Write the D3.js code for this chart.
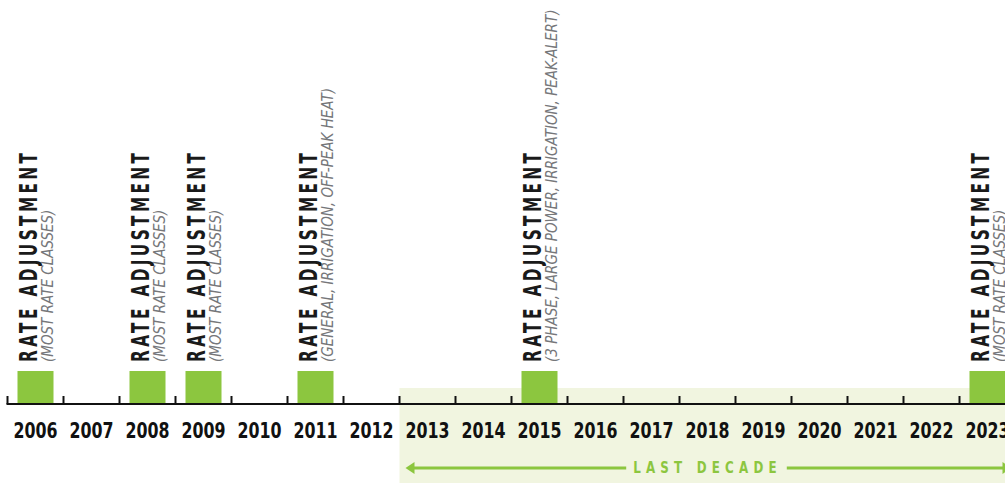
<!DOCTYPE html>
<html>
<head>
<meta charset="utf-8">
<script src="https://cdn.jsdelivr.net/npm/d3@7/dist/d3.min.js"></script>
<style>
  html, body { margin: 0; padding: 0; background: #fff; }
  svg { display: block; }
</style>
</head>
<body>
<svg id="chart" width="1005" height="483"></svg>
<script>
// Timeline data
var years = [2006, 2007, 2008, 2009, 2010, 2011, 2012, 2013, 2014, 2015, 2016, 2017, 2018, 2019, 2020, 2021, 2022, 2023];
var eventYears = [2006, 2008, 2009, 2011, 2015, 2023];
var eventTitles = ['RATE ADJUSTMENT', 'RATE ADJUSTMENT', 'RATE ADJUSTMENT', 'RATE ADJUSTMENT', 'RATE ADJUSTMENT', 'RATE ADJUSTMENT'];
var eventNotes = [
  '(MOST RATE CLASSES)',
  '(MOST RATE CLASSES)',
  '(MOST RATE CLASSES)',
  '(GENERAL, IRRIGATION, OFF-PEAK HEAT)',
  '(3 PHASE, LARGE POWER, IRRIGATION, PEAK-ALERT)',
  '(MOST RATE CLASSES)'
];
var decadeStart = 2013, decadeLabel = 'LAST DECADE';

/*******************************************************************************************/

var GREEN = '#8cc63f', BG = '#f1f5e0';
var CONDENSED = '"DejaVu Sans Condensed", "Liberation Sans Narrow", sans-serif';

var svg = d3.select('#chart');
var W = 1005, H = 483, axisY = 404, step = 56;

var x = d3.scaleBand().domain(years).range([7.5, 7.5 + step * years.length]).paddingInner(0);
var barW = 36, barH = 33;

// last decade band
svg.append('rect').attr('x', x(decadeStart)).attr('y', 388)
   .attr('width', W - x(decadeStart)).attr('height', H - 388).style('fill', BG);

// bars
svg.selectAll('.bar').data(eventYears).enter().append('rect')
   .attr('class', 'bar')
   .attr('x', d => x(d) + (step - barW) / 2)
   .attr('y', axisY - barH)
   .attr('width', barW).attr('height', barH)
   .style('fill', GREEN);

// axis line + ticks at band boundaries
svg.append('line').attr('x1', x(years[0]) - 1).attr('x2', W).attr('y1', axisY).attr('y2', axisY)
   .style('stroke', '#111').style('stroke-width', 2);
svg.selectAll('.tick').data(years).enter().append('line')
   .attr('x1', d => x(d)).attr('x2', d => x(d))
   .attr('y1', axisY - 8).attr('y2', axisY)
   .style('stroke', '#111').style('stroke-width', 2);

// year labels
svg.selectAll('.year').data(years).enter().append('text')
   .attr('transform', d => 'translate(' + (x(d) + step / 2) + ',' + 438 + ') scale(0.8,1)')
   .style('font-family', CONDENSED).style('font-weight', 'bold').style('font-size', '22px')
   .style('fill', '#111').style('text-anchor', 'middle')
   .text(d => d);

// vertical event labels
var labels = svg.selectAll('.event').data(eventYears).enter().append('g')
   .attr('transform', d => 'translate(' + (x(d) + (step - barW) / 2) + ',' + 362 + ') rotate(-90)');

labels.append('text')
   .attr('transform', 'translate(0,' + 19 + ') scale(0.68,1)')
   .style('font-family', CONDENSED).style('font-weight', 'bold').style('font-size', '25px')
   .style('letter-spacing', '5px').style('fill', '#1a1a1a')
   .text((d, i) => eventTitles[i]);

labels.append('text')
   .attr('transform', 'translate(0,' + 35 + ') scale(0.91,1)')
   .style('font-family', CONDENSED).style('font-style', 'italic').style('font-size', '16.5px')
   .style('fill', '#76777a')
   .text((d, i) => eventNotes[i]);

// last decade arrow
var ax0 = x(decadeStart) + 6, ax1 = x(years[years.length - 1]) + step - 4, ay = 468;
var mid = (x(decadeStart) + x(years[years.length - 1]) + step) / 2;
var squeeze = 0.8;

var dl = svg.append('text')
   .attr('transform', 'translate(' + mid + ',' + 473 + ') scale(' + squeeze + ',1)')
   .style('font-family', CONDENSED).style('font-weight', 'bold').style('font-size', '16.5px')
   .style('letter-spacing', '6.5px').style('fill', GREEN).style('text-anchor', 'middle')
   .text(decadeLabel);
var bb = dl.node().getBBox();
var tx0 = mid + bb.x * squeeze, tx1 = mid + (bb.x + bb.width) * squeeze;

svg.append('line').attr('x1', ax0 + 4).attr('x2', tx0 - 7).attr('y1', ay).attr('y2', ay)
   .style('stroke', GREEN).style('stroke-width', 3);
svg.append('line').attr('x1', tx1 + 5).attr('x2', ax1 - 4).attr('y1', ay).attr('y2', ay)
   .style('stroke', GREEN).style('stroke-width', 3);
svg.append('path').attr('d', 'M' + ax0 + ',' + ay + 'l9,-6v12z').style('fill', GREEN);
svg.append('path').attr('d', 'M' + ax1 + ',' + ay + 'l-9,-6v12z').style('fill', GREEN);
</script>
</body>
</html>
